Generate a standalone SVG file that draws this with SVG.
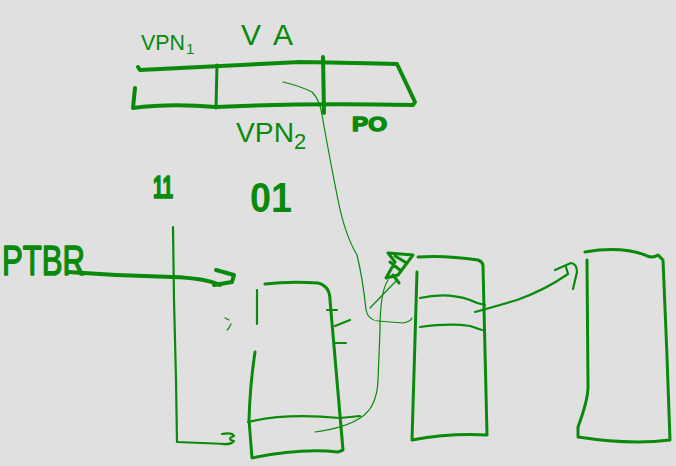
<svg xmlns="http://www.w3.org/2000/svg" width="676" height="466" viewBox="0 0 676 466">
<style>
.s{fill:none;stroke:#0a8a0a;stroke-linecap:round;stroke-linejoin:round}
.t1{stroke-width:1.2}
.t2{stroke-width:2.2}
.t3{stroke-width:3}
.t4{stroke-width:4}
.tx{fill:#0a8a0a;font-family:"Liberation Sans",Arial,sans-serif}
.bold{stroke:#0a8a0a;stroke-width:1.5;stroke-linejoin:round}
</style>
<rect width="676" height="466" fill="#e0e0e0"/>
<g id="va-bar">
<path class="s t4" d="M138 67 L140 70 Q220 66 300 62 Q360 63 397 64 L415 102 L413 105 Q300 103 216 107 Q170 103 133 108 L135 88"/>
<path class="s t3" d="M217 65 L216 108"/>
<path class="s t4" d="M323 57 L324 113"/>
<text class="tx" x="141" y="50" font-size="22" textLength="44" lengthAdjust="spacingAndGlyphs">VPN</text>
<text class="tx" x="186" y="54" font-size="15">1</text>
<text class="tx" x="241" y="45" font-size="30" textLength="52" lengthAdjust="spacing">VA</text>
<text class="tx" x="236" y="142" font-size="28" textLength="58" lengthAdjust="spacingAndGlyphs">VPN</text>
<text class="tx" x="294" y="149" font-size="22">2</text>
<text class="tx bold" x="352" y="131" font-size="21" font-weight="bold" textLength="35" lengthAdjust="spacingAndGlyphs">PO</text>
</g>
<g id="labels">
<text class="tx bold" x="153" y="198" font-size="31" font-weight="bold" textLength="20" lengthAdjust="spacingAndGlyphs">11</text>
<text class="tx" x="250" y="212" font-size="42" font-weight="bold" textLength="42" lengthAdjust="spacingAndGlyphs">01</text>
<text class="tx bold" x="2" y="275" font-size="42" textLength="83" lengthAdjust="spacingAndGlyphs">PTBR</text>
</g>
<g id="level1-table">
<path class="s t2" d="M257 290 L257 324"/>
<path class="s t3" d="M255 352 Q250 385 249 420 L252 458 Q300 448 338 452 L343 450 L330 300 Q330 286 318 283 Q290 281 265 284"/>
<path class="s t2" d="M327 310 L337 310 M335 326 L350 320 M335 343 L346 343"/>
<path class="s t2" d="M248 422 Q285 413 340 418 L360 416"/>
<path class="s t1" d="M225 318 L229 320 M231 324 L229 328 L227 330"/>
</g>
<g id="level2-table">
<path class="s t3" d="M418 257 Q445 255 478 260 Q483 262 483 266 L487 435 Q450 433 412 440 L417 272"/>
<path class="s t2" d="M420 298 Q447 292 470 300 Q478 304 485 305"/>
<path class="s t2" d="M420 327 Q450 323 470 326 L482 330"/>
</g>
<g id="page">
<path class="s t3" d="M585 252 Q620 246 645 255 Q652 259 658 255 L663 260 Q667 350 670 440 Q630 445 578 437 L578 427 Q588 400 588 387 L587 260"/>
</g>
<g id="connectors">
<path class="s t4" d="M68 272 Q120 276 172 277 Q205 278 220 285"/>
<path class="s t4" d="M216 270 L234 275 L232 282 L214 285"/>
<path class="s t2" d="M173 227 L174 300 L176 380 L177 442 L226 444"/>
<path class="s t2" d="M222 434 Q232 432 234 436 Q226 439 234 441 Q231 445 222 444"/>
<path class="s t1" d="M283 82 Q300 86 312 92 Q320 100 322 115 Q330 160 338 200 Q345 235 357 255 Q363 280 366 310 Q368 320 378 321 L403 323 Q410 322 412 318"/>
<path class="s t1" d="M315 432 Q345 428 360 418 Q377 408 378 380 L380 330 Q380 292 388 280"/>
<path class="s t1" d="M370 308 L397 280"/>
<path class="s t3" d="M388 253 L413 255 L398 275 L386 278 L395 262 Z M390 262 L400 270 M395 256 L405 262 M393 275 L399 283"/>
<path class="s t2" d="M475 312 Q500 305 517 300 Q545 290 568 274"/>
<path class="s t2" d="M555 270 L571 263 Q577 264 577 272 L573 289"/>
<path class="s t2" d="M568 274 L566 267"/>
</g>
</svg>
